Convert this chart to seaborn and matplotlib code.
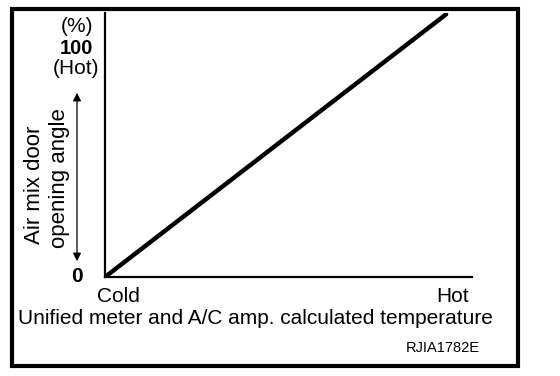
import numpy as np
import pandas as pd
import matplotlib
matplotlib.use('Agg')
import matplotlib.pyplot as plt
import seaborn as sns

# data: door opening angle goes linearly from cold (0 %) to hot (100 %)
temp_pos = [0, 100]
door_angle = [0, 100]
x_labels = ['Cold', 'Hot']
y_labels = ['0', '100']

df = pd.DataFrame({'temp': temp_pos, 'angle': door_angle})

sns.set_style('white')
plt.rcParams['font.family'] = ['Liberation Sans', 'DejaVu Sans']
plt.rcParams['text.color'] = 'black'

fig = plt.figure(figsize=(5.6, 3.76), dpi=100)
ax = fig.add_axes([105 / 560, 1 - 277 / 376, (472 - 105) / 560, (277 - 13) / 376])

sns.lineplot(data=df, x='temp', y='angle', color='black', linewidth=3.2, ax=ax)
ax.set_xlim(0, 107.6)
ax.set_ylim(0, 100.5)

for s in ['top', 'right']:
    ax.spines[s].set_visible(False)
for s in ['left', 'bottom']:
    ax.spines[s].set_color('black')
    ax.spines[s].set_linewidth(1.6)
ax.set_xticks([])
ax.set_yticks([])
ax.set_xlabel('')
ax.set_ylabel('')

# outer frame
fig.patches.append(plt.Rectangle((11.5 / 560, 1 - 365.5 / 376), (518 - 11.5) / 560, (365.5 - 8.5) / 376,
                                 transform=fig.transFigure, fill=False, edgecolor='black', linewidth=3))

def px(x, y):
    return x / 560, 1 - y / 376

fs = 15
fig.text(*px(77, 26), '(%)', ha='center', va='center', fontsize=15)
fig.text(*px(76, 48), y_labels[1], ha='center', va='center', fontsize=14.5, fontweight='bold')
fig.text(*px(76, 69), '(Hot)', ha='center', va='center', fontsize=15)
fig.text(*px(77, 277), y_labels[0], ha='center', va='center', fontsize=15, fontweight='bold')
fig.text(*px(118, 296), x_labels[0], ha='center', va='center', fontsize=fs)
fig.text(*px(453, 296), x_labels[1], ha='center', va='center', fontsize=fs)
fig.text(*px(255, 319), 'Unified meter and A/C amp. calculated temperature',
         ha='center', va='center', fontsize=fs)
fig.text(*px(35, 185), 'Air mix door', ha='center', va='center', fontsize=16, rotation=90)
fig.text(*px(59, 178), 'opening angle', ha='center', va='center', fontsize=16, rotation=90)
fig.text(*px(443, 348), 'RJIA1782E', ha='center', va='center', fontsize=10.5)

ax.annotate('', xy=px(77, 90), xytext=px(77, 264), xycoords='figure fraction',
            textcoords='figure fraction',
            arrowprops=dict(arrowstyle='<|-|>', color='black', lw=0.9, mutation_scale=12))

fig.savefig('out.png', dpi=100)
